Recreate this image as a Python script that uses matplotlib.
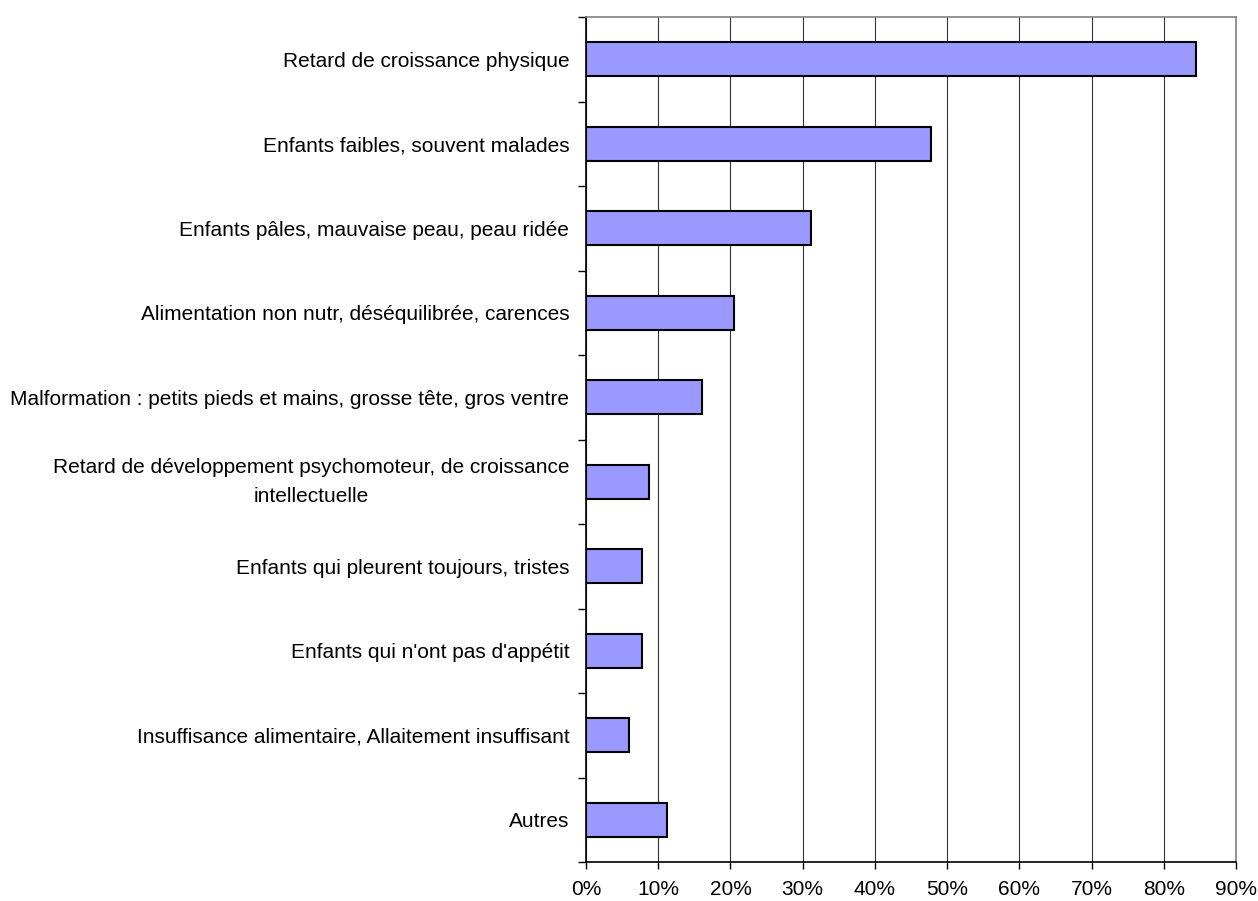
import matplotlib
matplotlib.use("Agg")
import matplotlib.pyplot as plt
from matplotlib.ticker import PercentFormatter

# Categories, top to bottom
categories = [
    "Retard de croissance physique",
    "Enfants faibles, souvent malades",
    "Enfants pâles, mauvaise peau, peau ridée",
    "Alimentation non nutr, déséquilibrée, carences",
    "Malformation : petits pieds et mains, grosse tête, gros ventre",
    "Retard de développement psychomoteur, de croissance\nintellectuelle",
    "Enfants qui pleurent toujours, tristes",
    "Enfants qui n'ont pas d'appétit",
    "Insuffisance alimentaire, Allaitement insuffisant",
    "Autres",
]
values = [84.5, 47.8, 31.1, 20.5, 16.0, 8.7, 7.8, 7.8, 6.0, 11.2]
x_ticks = [0, 10, 20, 30, 40, 50, 60, 70, 80, 90]

plt.rcParams['font.family'] = ['Liberation Sans', 'DejaVu Sans']

fig = plt.figure(figsize=(12.58, 9.01), dpi=100)
ax = fig.add_axes([586 / 1258, 1 - 862 / 901, (1236 - 586) / 1258, (862 - 17) / 901])

# Create horizontal bars
pos = list(range(len(categories)))
ax.barh(pos, values, height=0.4, color='#9999FF', edgecolor='black', linewidth=1.5, zorder=3)

ax.set_xlim(0, 90)
ax.set_ylim(len(categories) - 0.5, -0.5)

# Gridlines and spines like the spreadsheet export
ax.set_xticks(x_ticks)
ax.xaxis.set_major_formatter(PercentFormatter(decimals=0))
ax.grid(axis='x', color='#333333', linewidth=0.8, zorder=0)
ax.spines['top'].set_color('#808080')
ax.spines['right'].set_color('#808080')
ax.spines['left'].set_color('black')
ax.spines['bottom'].set_color('black')
for side in ['top', 'right', 'left', 'bottom']:
    ax.spines[side].set_linewidth(1.2)

# Category ticks sit between the bars
ax.set_yticks([p - 0.5 for p in pos] + [len(categories) - 0.5])
ax.set_yticks(pos, minor=True)
ax.set_yticklabels(categories, minor=True)
ax.tick_params(axis='y', which='major', length=6, width=1, labelleft=False)
ax.tick_params(axis='y', which='minor', length=0, pad=12, labelsize=15)
ax.tick_params(axis='x', length=5, width=1, pad=8, labelsize=15)

for lab in ax.get_yticklabels(minor=True):
    lab.set_multialignment('center')
    lab.set_linespacing(1.65)
    if '\n' in lab.get_text():
        lab.set_verticalalignment('center')

fig.savefig('out.png', dpi=100)
